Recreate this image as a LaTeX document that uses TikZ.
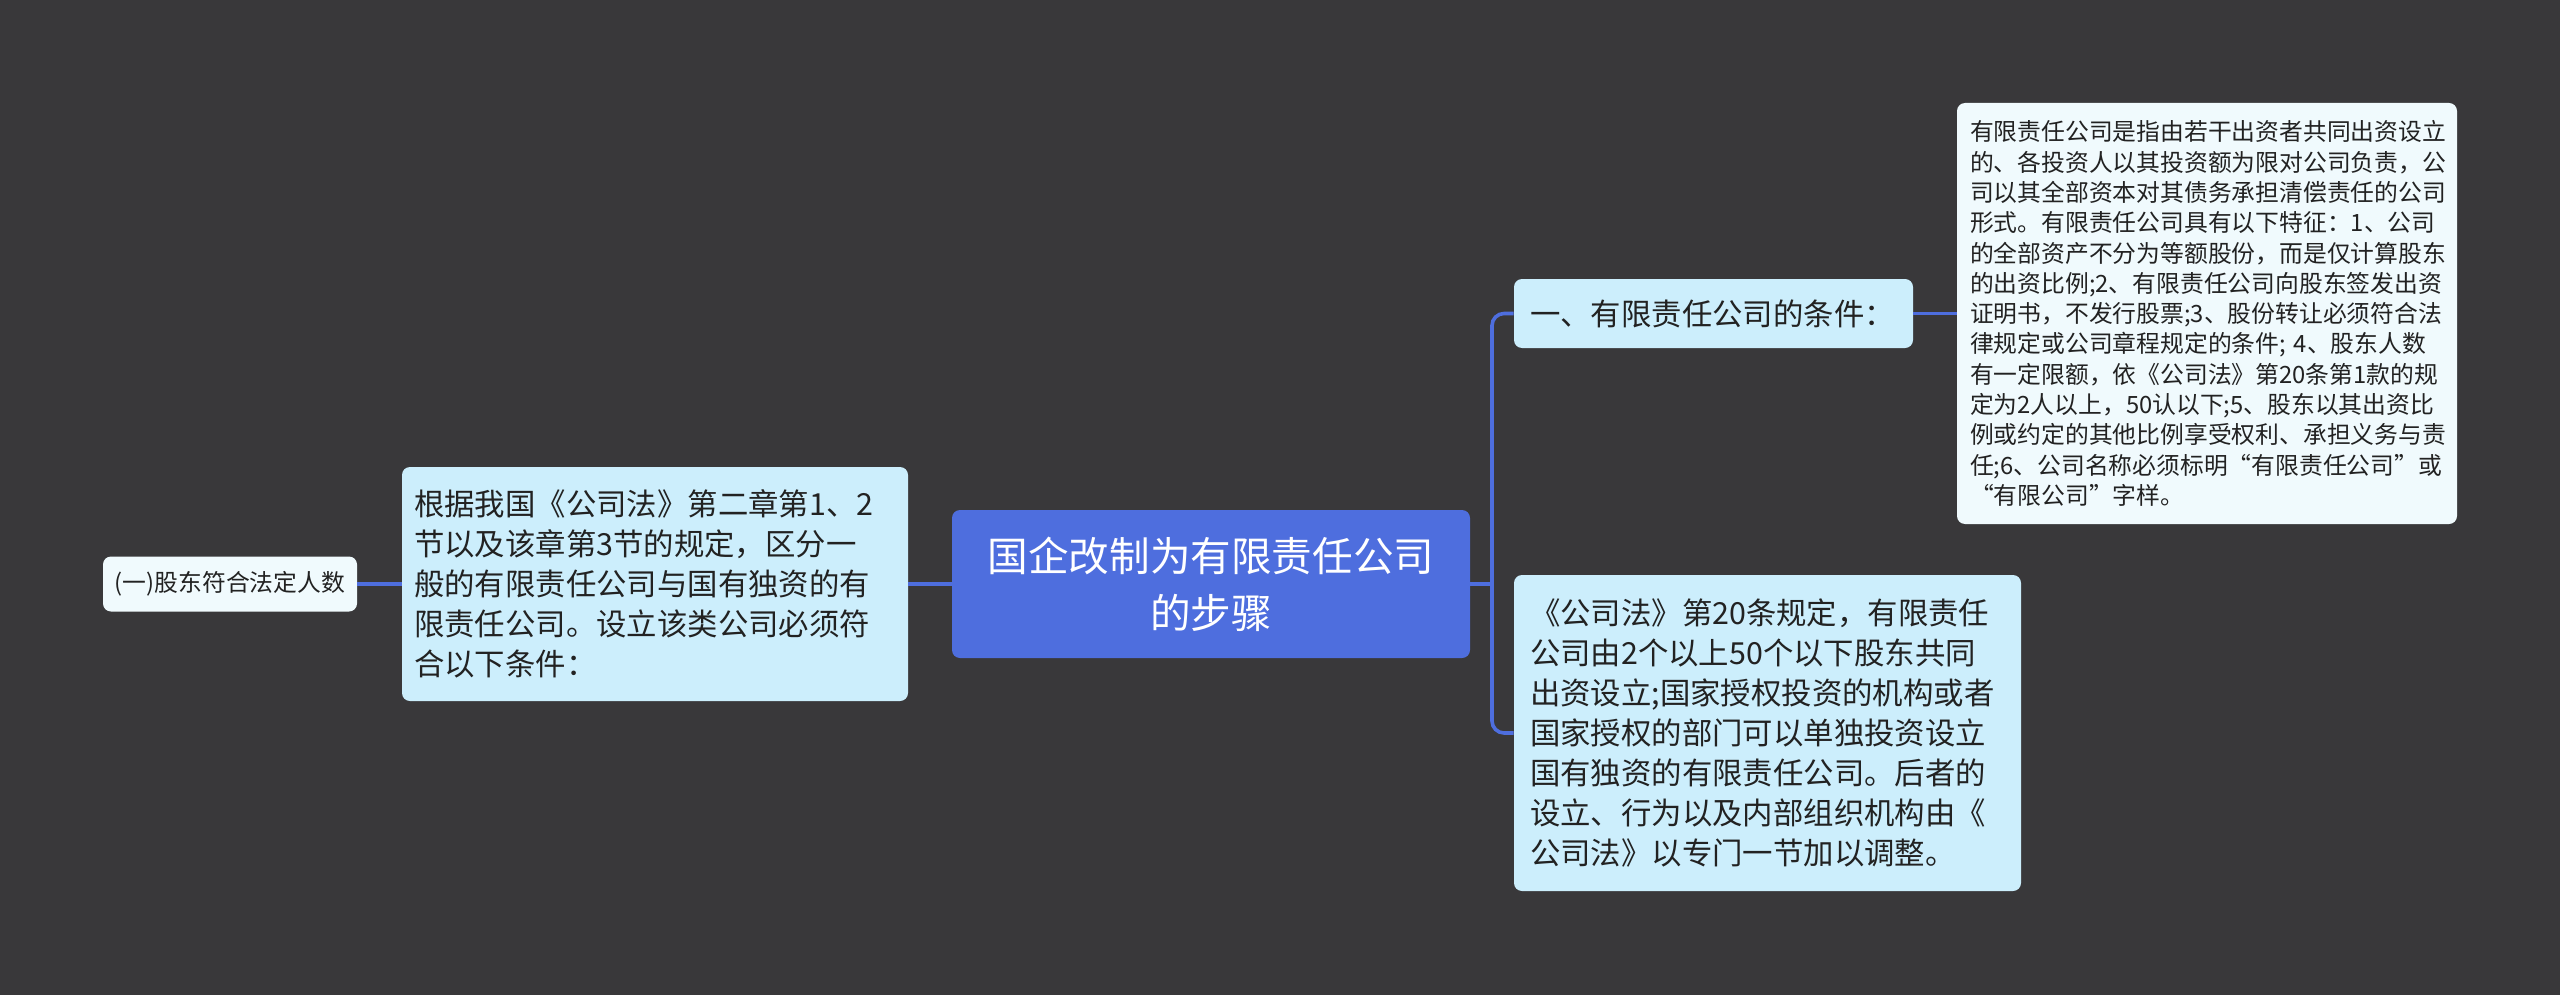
\documentclass[tikz,border=0pt]{standalone}
\usepackage{fontspec}
\setmainfont{Noto Sans CJK SC}
\definecolor{bgc}{RGB}{57,56,58}
\definecolor{bluec}{RGB}{78,110,222}
\definecolor{lightc}{RGB}{204,238,252}
\definecolor{leafc}{RGB}{240,250,253}
\definecolor{txtc}{RGB}{34,34,34}
\tikzset{
  rootbox/.style={fill=bluec, text=white, rounded corners=4pt, inner sep=0pt, align=center,
    font=\fontsize{20.3pt}{28.5pt}\selectfont},
  midbox/.style={fill=lightc, text=txtc, rounded corners=4pt, inner sep=0pt, align=left,
    font=\fontsize{15.2pt}{20pt}\selectfont},
  leafbox/.style={fill=leafc, text=txtc, rounded corners=4pt, inner sep=0pt, align=left,
    font=\fontsize{11.9pt}{15.15pt}\selectfont},
  conn/.style={draw=bluec, line width=1.8pt},
}
\begin{document}
\begin{tikzpicture}[x=0.5pt, y=-0.5pt]
\fill[bgc] (0,0) rectangle (2560,995);
\useasboundingbox (0,0) rectangle (2560,995);

\node[rootbox, minimum width=259pt, minimum height=74pt] (root) at (1211,584)
  {国企改制为有限责任公司\\的步骤};

\node[midbox, minimum width=253pt, minimum height=117pt, text width=241pt] (left) at (655,584)
  {根据我国《公司法》第二章第1、2\\节以及该章第3节的规定，区分一\\般的有限责任公司与国有独资的有\\限责任公司。设立该类公司必须符\\合以下条件：};

\node[leafbox, minimum width=127pt, minimum height=27.5pt, align=center] (leaf) at (230,584)
  {(一)股东符合法定人数};

\node[midbox, minimum width=199.5pt, minimum height=34.5pt, text width=183.5pt] (rt) at (1713.5,313.5)
  {一、有限责任公司的条件：};

\node[midbox, minimum width=253.5pt, minimum height=158pt, text width=237.5pt] (rb) at (1767.5,733)
  {《公司法》第20条规定，有限责任\\公司由2个以上50个以下股东共同\\出资设立;国家授权投资的机构或者\\国家授权的部门可以单独投资设立\\国有独资的有限责任公司。后者的\\设立、行为以及内部组织机构由《\\公司法》以专门一节加以调整。};

\node[leafbox, minimum width=250pt, minimum height=210.5pt, text width=237pt] (fr) at (2207,313.5)
  {有限责任公司是指由若干出资者共同出资设立\\的、各投资人以其投资额为限对公司负责，公\\司以其全部资本对其债务承担清偿责任的公司\\形式。有限责任公司具有以下特征：1、公司\\的全部资产不分为等额股份，而是仅计算股东\\的出资比例;2、有限责任公司向股东签发出资\\证明书，不发行股票;3、股份转让必须符合法\\律规定或公司章程规定的条件; 4、股东人数\\有一定限额，依《公司法》第20条第1款的规\\定为2人以上，50认以下;5、股东以其出资比\\例或约定的其他比例享受权利、承担义务与责\\任;6、公司名称必须标明“有限责任公司”或\\“有限公司”字样。};

\coordinate (j) at (1492,584);
\draw[conn] (root.east) -- (j);
\draw[conn, rounded corners=6pt] (rt.west) -| (j) |- (rb.west);
\draw[conn] (root.west) -- (left.east);
\draw[conn] (left.west) -- (leaf.east);
\draw[conn] (rt.east) -- (fr.west);
\end{tikzpicture}
\end{document}
